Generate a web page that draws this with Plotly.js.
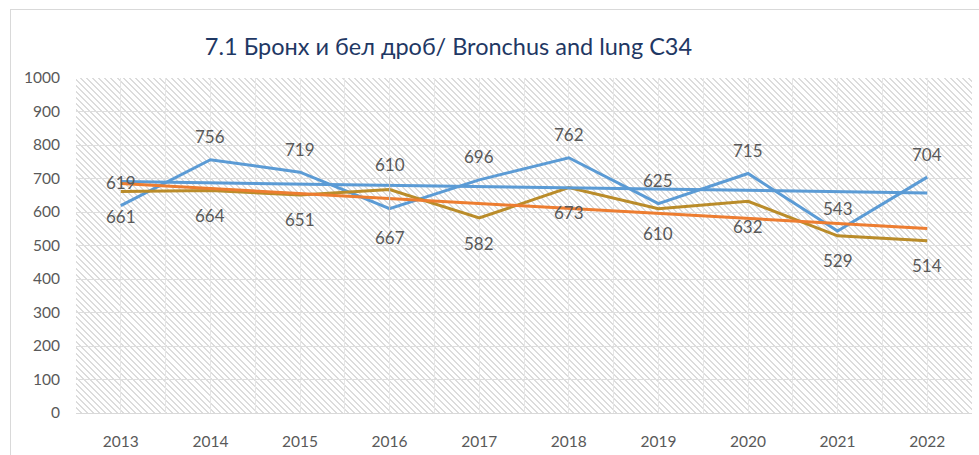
<!DOCTYPE html>
<html>
<head>
<meta charset="utf-8">
<script src="https://cdn.plot.ly/plotly-3.0.1.min.js"></script>
<style>
  html, body { margin: 0; padding: 0; background: #ffffff; overflow: hidden; }
  #wrap { position: relative; width: 979px; height: 455px; overflow: hidden; background: #fff; }
  #frame { position: absolute; left: 10px; top: 9px; width: 1100px; height: 600px; border: 1px solid #d9d9d9; box-sizing: border-box; }
  #hatch { position: absolute; left: 76px; top: 78px; width: 896px; height: 335px;
    background: repeating-linear-gradient(45deg, #ffffff 0px, #ffffff 2.9px, #dcdcdc 2.9px, #dcdcdc 4.3px); }
  #chart { position: absolute; left: 0; top: 0; width: 979px; height: 455px; }
</style>
</head>
<body>
<div id="wrap">
  <div id="frame"></div>
  <div id="hatch"></div>
  <div id="chart"></div>
</div>
<script>
// ---- data ----
const years = [2013, 2014, 2015, 2016, 2017, 2018, 2019, 2020, 2021, 2022];
const seriesBlue = [619, 756, 719, 610, 696, 762, 625, 715, 543, 704];
const seriesGold = [661, 664, 651, 667, 582, 673, 610, 632, 529, 514];
const trendYears = [2013, 2022];
const trendBlue = [691, 657];
const trendGold = [685, 551];
const yTicks = [0, 100, 200, 300, 400, 500, 600, 700, 800, 900, 1000];
const titleText = '7.1 Бронх и бел дроб/ Bronchus and lung C34';

// ---- styles ----
const BLUE = '#5B9BD5', GOLD = '#BA8C2A', ORANGE = '#ED7D31';
const FONT = 'Lato, "Open Sans", sans-serif';
const LABEL_COLOR = '#595959';

const traces = [
  { x: years, y: seriesBlue, type: 'scatter', mode: 'lines', line: { color: BLUE, width: 3 }, hoverinfo: 'skip' },
  { x: years, y: seriesGold, type: 'scatter', mode: 'lines', line: { color: GOLD, width: 3 }, hoverinfo: 'skip' },
  { x: trendYears, y: trendBlue, type: 'scatter', mode: 'lines', line: { color: BLUE, width: 3 }, hoverinfo: 'skip' },
  { x: trendYears, y: trendGold, type: 'scatter', mode: 'lines', line: { color: ORANGE, width: 3 }, hoverinfo: 'skip' }
];

// data labels: blue above, gold below; 2016 pair pulled apart with leader lines
const annotations = [];
years.forEach((yr, i) => {
  const special = (yr === 2016);
  annotations.push({
    x: yr, y: seriesBlue[i], xref: 'x', yref: 'y', text: String(seriesBlue[i]),
    showarrow: special, arrowhead: 0, arrowwidth: 1, arrowcolor: '#bfbfbf', ax: 0, ay: special ? -44 : 0,
    yshift: special ? 0 : 23,
    font: { family: FONT, size: 17, color: LABEL_COLOR }
  });
  annotations.push({
    x: yr, y: seriesGold[i], xref: 'x', yref: 'y', text: String(seriesGold[i]),
    showarrow: special, arrowhead: 0, arrowwidth: 1, arrowcolor: '#bfbfbf', ax: 0, ay: special ? 48 : 0,
    yshift: special ? 0 : -25,
    font: { family: FONT, size: 17, color: LABEL_COLOR }
  });
});

const boundaries = years.map(y => y - 0.5).concat([years[years.length - 1] + 0.5]);

const layout = {
  width: 979, height: 455,
  margin: { l: 76, r: 7, t: 78, b: 42, pad: 0 },
  paper_bgcolor: 'rgba(0,0,0,0)',
  plot_bgcolor: 'rgba(0,0,0,0)',
  showlegend: false,
  title: {
    text: titleText,
    font: { family: FONT, size: 23.5, color: '#1f3864' },
    xref: 'container', yref: 'container', x: 448.5 / 979, y: 1 - 47 / 455,
    xanchor: 'center', yanchor: 'middle'
  },
  xaxis: {
    type: 'linear', range: [years[0] - 0.5, years[years.length - 1] + 0.5],
    tickvals: years, ticktext: years.map(String),
    showgrid: true, gridcolor: '#e6e6e6', gridwidth: 1,
    minor: { tickvals: boundaries, showgrid: true, gridcolor: '#e6e6e6', gridwidth: 1, ticks: '' },
    zeroline: false, showline: true, linecolor: '#d9d9d9', linewidth: 1,
    ticks: '', ticklabelstandoff: 14,
    tickfont: { family: FONT, size: 15.5, color: LABEL_COLOR }
  },
  yaxis: {
    range: [0, 1000], tickvals: yTicks, ticktext: yTicks.map(String),
    showgrid: true, gridcolor: '#dedede', gridwidth: 1,
    zeroline: false, showline: false, ticks: '', ticklabelstandoff: 15,
    tickfont: { family: FONT, size: 15.5, color: LABEL_COLOR }
  },
  annotations: annotations
};

Plotly.newPlot('chart', traces, layout, { staticPlot: true, displayModeBar: false });
</script>
</body>
</html>
